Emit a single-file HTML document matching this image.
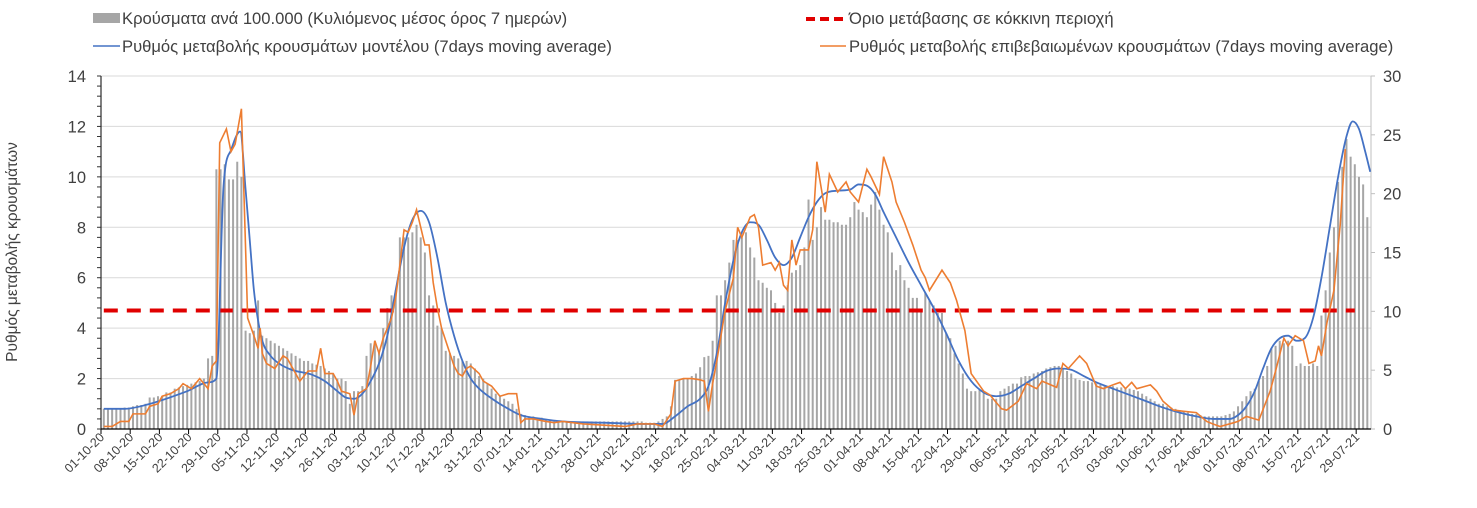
<!DOCTYPE html>
<html><head><meta charset="utf-8">
<style>
html,body{margin:0;padding:0;background:#fff;}
svg{display:block;font-family:"Liberation Sans","DejaVu Sans",sans-serif;}
</style></head>
<body>
<svg id="chart" width="1477" height="508" viewBox="0 0 1477 508" xmlns="http://www.w3.org/2000/svg">
  <g id="legend" font-size="16.6" fill="#404040">
    <g>
      <rect x="93" y="13" width="27" height="10" fill="#a6a6a6"/>
      <text x="122" y="24">Κρούσματα ανά 100.000 (Κυλιόμενος μέσος όρος 7 ημερών)</text>
    </g>
    <g>
      <line x1="806" y1="19" x2="845" y2="19" stroke="#e00000" stroke-width="4" stroke-dasharray="9,5"/>
      <text x="849" y="24">Όριο μετάβασης σε κόκκινη περιοχή</text>
    </g>
    <g>
      <line x1="93" y1="46" x2="120" y2="46" stroke="#4472c4" stroke-width="1.6"/>
      <text x="122" y="52">Ρυθμός μεταβολής κρουσμάτων μοντέλου (7days moving average)</text>
    </g>
    <g>
      <line x1="820" y1="46" x2="846" y2="46" stroke="#ed7d31" stroke-width="1.6"/>
      <text x="849" y="52">Ρυθμός μεταβολής επιβεβαιωμένων κρουσμάτων (7days moving average)</text>
    </g>
  </g>
  <g id="grid"></g>
  <g id="bars"></g>
  <g id="axes"></g>
  <line id="thr" stroke="#e00000" stroke-width="4" stroke-dasharray="14,9"/>
  <path id="blue" fill="none" stroke="#4472c4" stroke-width="1.8"/>
  <path id="orange" fill="none" stroke="#ed7d31" stroke-width="1.6"/>
  <text transform="translate(17,252) rotate(-90)" text-anchor="middle" font-size="15.5" fill="#404040">Ρυθμός μεταβολής κρουσμάτων</text>
</svg>
<script>
const leftTicks=[0,2,4,6,8,10,12,14];
const rightTicks=[0,5,10,15,20,25,30];
const startDate=[2020,9,1];
const threshold=[4.7];
const cases=[0.8,0.8,0.8,0.8,0.8,0.85,0.85,0.9,0.95,0.95,
1.0,1.25,1.25,1.3,1.3,1.45,1.45,1.6,1.65,1.7,
1.75,1.8,1.85,1.9,2.0,2.8,2.9,10.3,10.3,10.5,
9.9,9.9,10.6,10.0,3.9,3.8,3.9,5.1,3.7,3.6,
3.5,3.4,3.3,3.2,3.1,3.0,2.9,2.8,2.7,2.7,
2.6,2.55,2.5,2.4,2.3,2.2,2.0,2.0,1.9,1.0,
1.5,1.5,1.7,2.9,3.4,3.5,3.1,4.0,4.8,5.3,
5.5,7.6,7.6,7.6,7.8,8.1,7.6,7.0,5.3,4.9,
4.1,4.0,3.1,3.0,2.9,2.8,2.7,2.7,2.6,2.4,
2.1,2.0,1.8,1.6,1.4,1.3,1.2,1.1,1.0,0.8,
0.6,0.55,0.5,0.5,0.45,0.45,0.4,0.35,0.3,0.3,
0.3,0.3,0.3,0.3,0.3,0.3,0.3,0.3,0.3,0.3,
0.3,0.3,0.3,0.3,0.3,0.3,0.3,0.3,0.3,0.3,
0.25,0.25,0.25,0.3,0.4,0.5,0.9,1.95,1.95,2.0,
2.0,2.1,2.2,2.45,2.85,2.9,3.5,5.3,5.3,5.9,
6.6,7.5,7.5,7.6,7.8,7.2,6.8,5.9,5.8,5.6,
5.5,5.0,4.6,4.9,5.7,6.2,6.3,6.5,7.2,9.1,
7.5,8.0,8.8,8.3,8.3,8.2,8.2,8.1,8.1,8.4,
9.0,8.7,8.6,8.4,8.9,9.4,8.7,8.1,7.8,7.0,
6.3,6.5,5.9,5.6,5.2,5.2,4.7,5.4,5.1,4.9,
4.6,4.6,3.8,3.6,3.0,2.6,2.2,1.6,1.5,1.5,
1.55,1.5,1.2,1.2,1.2,1.5,1.6,1.7,1.8,1.8,
2.05,2.1,2.1,2.2,2.25,2.3,2.4,2.45,2.5,2.5,
2.4,2.3,2.2,2.0,1.95,1.9,1.9,1.85,1.8,1.75,
1.7,1.7,1.7,1.65,1.65,1.6,1.6,1.55,1.5,1.4,
1.3,1.2,1.1,1.0,1.0,0.9,0.85,0.8,0.75,0.7,
0.65,0.6,0.6,0.55,0.5,0.5,0.5,0.5,0.5,0.55,
0.6,0.7,0.9,1.1,1.3,1.5,1.6,1.9,2.1,2.5,
3.2,3.3,3.5,3.4,3.5,3.3,2.5,2.6,2.5,2.5,
2.6,2.5,4.5,5.5,7.0,8.0,9.8,10.4,11.5,10.8,
10.5,10.0,9.7,8.4];
const blueDays=[0,5,10,20,25,27,28.7,30.6,32.7,34,35,36,37,38,40,42,45,50,53,56,58,60,62,64,66,68,70,72,74,76,78,80,82,84,86,88,90,94,97,100,105,110,120,130,134,137,140,143,145,147,149,151,153,155,157,159,161,163,165,167,169,171,173,176,179,181,183,185,187,190,193,196,199,202,205,208,211,214,217,220,223,226,229,232,235,238,242,246,250,254,258,262,266,270,272,274,276,278,280,282,284,286,288,290,292,294,296,298,299.5,301,302.5,303.7];
const blueVals=[0.8,0.8,0.95,1.5,1.85,2.0,9.6,11.1,11.8,9.5,7.5,5.5,4.3,3.5,2.9,2.6,2.35,2.15,1.9,1.5,1.25,1.2,1.4,1.9,2.6,3.7,5.5,7.2,8.3,8.65,8.2,6.8,5.0,3.7,2.7,2.0,1.6,1.1,0.8,0.55,0.4,0.3,0.25,0.2,0.2,0.5,0.9,1.2,1.7,3.0,5.0,6.7,7.8,8.2,8.1,7.5,6.8,6.5,6.8,7.6,8.4,9.0,9.35,9.45,9.5,9.7,9.65,9.3,8.6,7.6,6.6,5.7,4.8,3.8,2.7,1.9,1.45,1.3,1.4,1.7,2.0,2.3,2.4,2.35,2.1,1.85,1.6,1.35,1.1,0.85,0.65,0.5,0.4,0.4,0.55,0.9,1.5,2.4,3.2,3.6,3.7,3.5,3.6,4.4,6.0,8.0,10.0,11.6,12.2,11.9,11.0,10.2];
const orangeDays=[0,2,4,6,7,10,11,13,14,16,18,19,21,23,25,26,27,27.8,29.4,30.5,31.5,33,34.5,36,37,37.5,38,39,41,43,44,46,47,49,51,52,53,55,56,57,59,60,61,63,64,65,66,67,69,70,71,72,73,74,75,76,77,78,79,80,81,83,84,85,86,87,88,90,91,93,95,97,99,100,101,103,106,108,110,115,120,125,128,132,134,136,137,139,141,143,144,145,146,147,148,149,151,152,153,155,156,157,158,160,161,162,163,164,165,166,167,169,170,171,173,174,176,178,179,181,183,184,186,187,189,190,192,194,196,197,198,201,203,204.5,206.5,208,211,212.5,215.3,216.5,219.3,221.3,223.7,225,228.5,230,231.3,234,235.7,238,239.7,242,243.7,245,246.5,247.7,251,252.5,254,256.5,259,262,264.5,266,267.7,271,272,274,277,279.7,281,283,284,285.7,287.7,289,290.5,291.3,292,293.3,295,296.5,297.7];
const orangeVals=[0.1,0.1,0.3,0.3,0.6,0.6,0.9,1.0,1.3,1.4,1.6,1.8,1.6,2.0,1.6,2.5,2.7,11.35,11.9,11.0,11.3,12.7,4.4,3.7,3.2,4.0,3.0,2.6,2.4,2.9,2.8,2.2,1.9,2.3,2.3,3.2,2.2,2.2,1.9,1.5,1.4,0.55,1.4,1.6,2.5,3.5,3.0,3.6,4.4,5.2,6.5,7.9,7.8,8.2,8.7,8.0,7.3,7.3,5.8,4.8,4.0,3.0,2.5,2.2,2.1,2.4,2.5,2.2,1.9,1.7,1.3,1.4,1.4,0.25,0.4,0.4,0.3,0.25,0.3,0.2,0.15,0.1,0.2,0.2,0.1,0.6,1.9,2.0,2.0,1.95,1.9,0.7,1.8,2.7,3.7,4.7,6.0,8.0,7.6,8.4,8.5,8.0,6.5,6.6,6.3,6.6,5.7,5.5,7.5,6.5,7.1,7.1,7.9,10.6,8.6,10.1,9.4,9.8,9.4,9.0,10.3,10.0,9.3,10.8,9.8,9.0,8.2,7.3,6.3,6.0,5.5,6.3,5.8,5.1,3.9,2.2,1.5,1.35,0.8,0.75,1.1,1.8,1.6,1.9,1.65,2.6,2.4,2.9,2.6,1.7,1.6,1.75,1.85,1.6,1.85,1.6,1.75,1.5,1.1,0.75,0.7,0.65,0.3,0.2,0.1,0.25,0.3,0.5,0.35,1.5,2.3,3.6,3.3,3.7,3.5,2.6,2.7,3.3,2.9,4.2,5.5,8.1,11.1,11.8];

const NS="http://www.w3.org/2000/svg";
const X0=103.8, DX=4.17, Y0=429, YTOP=76, LMAX=14, RMAX=30, PL=101, PR=1371;
function xs(d){return X0+d*DX;}
function yl(v){return Y0-(v/LMAX)*(Y0-YTOP);}
function yr(v){return Y0-(v/RMAX)*(Y0-YTOP);}
function mk(tag,attrs,parent){const e=document.createElementNS(NS,tag);for(const k in attrs)e.setAttribute(k,attrs[k]);parent.appendChild(e);return e;}

const grid=document.getElementById('grid');
const axes=document.getElementById('axes');
leftTicks.forEach(v=>{
  if(v>0){const g=mk('line',{x1:PL,x2:PR,y1:yl(v),y2:yl(v),stroke:'#d9d9d9','stroke-width':1},grid);
  
  }
  const t=mk('text',{x:86,y:yl(v)+6,'text-anchor':'end','font-size':16.5,fill:'#404040'},axes);
  t.textContent=v;
  
  
});
mk('line',{x1:PL,x2:PL,y1:YTOP,y2:Y0,stroke:'#000','stroke-width':1},axes);
for(let v=0;v<=LMAX+0.001;v+=0.4){mk('line',{x1:PL-4,x2:PL,y1:yl(v),y2:yl(v),stroke:'#333','stroke-width':1},axes);}
mk('line',{x1:PR,x2:PR,y1:YTOP,y2:Y0,stroke:'#bfbfbf','stroke-width':1},axes);
rightTicks.forEach(v=>{
  mk('line',{x1:PR,x2:PR+4,y1:yr(v),y2:yr(v),stroke:'#bfbfbf','stroke-width':1},axes);
  const t=mk('text',{x:1383,y:yr(v)+6,'font-size':16.5,fill:'#404040'},axes);
  t.textContent=v;
  
  
});
const bars=document.getElementById('bars');
cases.forEach((v,d)=>{
  const b=mk('rect',{x:xs(d)-1,y:yl(v),width:2,height:Y0-yl(v),fill:'#a6a6a6'},bars);
  
  
});
mk('line',{x1:PL,x2:PR,y1:Y0,y2:Y0,stroke:'#000','stroke-width':1.2},axes);
const sd=new Date(startDate[0],startDate[1],startDate[2]);
for(let d=0;d<cases.length;d+=7){
  const tx=PL+d*DX;
  mk('line',{x1:tx,x2:tx,y1:Y0,y2:Y0+5,stroke:'#000','stroke-width':1},axes);
  const dt=new Date(sd.getTime()+d*86400000+3600000*12);
  const s=String(dt.getDate()).padStart(2,'0')+'-'+String(dt.getMonth()+1).padStart(2,'0')+'-'+String(dt.getFullYear()%100).padStart(2,'0');
  const t=mk('text',{x:0,y:0,'text-anchor':'end','font-size':12.5,fill:'#404040',transform:`translate(${tx+4},${Y0+9}) rotate(-45)`},axes);
  t.textContent=s;
  
  
}
const thr=document.getElementById('thr');
thr.setAttribute('x1',xs(0));thr.setAttribute('x2',xs(cases.length-4));
thr.setAttribute('y1',yl(threshold[0]));thr.setAttribute('y2',yl(threshold[0]));
// blue: monotone cubic (no overshoot)
(function(){
  const X=blueDays.map(xs), Y=blueVals.map(yl), n=X.length;
  const dl=[],m=[];
  for(let i=0;i<n-1;i++)dl.push((Y[i+1]-Y[i])/(X[i+1]-X[i]));
  m[0]=dl[0];m[n-1]=dl[n-2];
  for(let i=1;i<n-1;i++){m[i]=(dl[i-1]*dl[i]<=0)?0:(dl[i-1]+dl[i])/2;}
  for(let i=0;i<n-1;i++){
    if(dl[i]===0){m[i]=0;m[i+1]=0;continue;}
    const a=m[i]/dl[i],b=m[i+1]/dl[i],s=a*a+b*b;
    if(s>9){const t=3/Math.sqrt(s);m[i]=t*a*dl[i];m[i+1]=t*b*dl[i];}
  }
  let p=`M${X[0]},${Y[0]}`;
  for(let i=0;i<n-1;i++){
    const h=(X[i+1]-X[i])/3;
    p+=`C${X[i]+h},${Y[i]+m[i]*h} ${X[i+1]-h},${Y[i+1]-m[i+1]*h} ${X[i+1]},${Y[i+1]}`;
  }
  document.getElementById('blue').setAttribute('d',p);
})();
document.getElementById('orange').setAttribute('d',orangeDays.map((d,i)=>(i?'L':'M')+xs(d)+','+yl(orangeVals[i])).join(''));
</script>
</body></html>
